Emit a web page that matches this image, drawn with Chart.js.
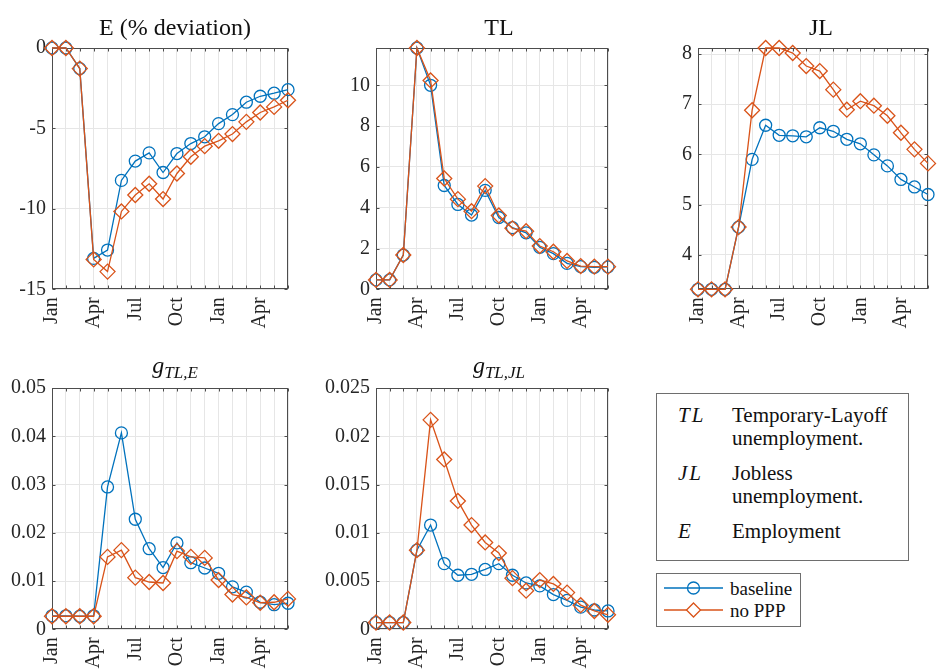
<!DOCTYPE html>
<html>
<head>
<meta charset="utf-8">
<script src="https://cdn.jsdelivr.net/npm/chart.js@4.4.0/dist/chart.umd.min.js"></script>
<style>
html, body { margin: 0; padding: 0; width: 938px; height: 669px; overflow: hidden; background: #fff; }
body { position: relative; font-family: "Liberation Serif", "DejaVu Serif", "Times New Roman", Times, serif; color: #111; }
canvas { position: absolute; }
.ttl { position: absolute; text-align: center; font-size: 24px; line-height: 28px; white-space: nowrap; }
.ttl sub { font-size: 17px; vertical-align: -5px; line-height: 0; }
.box { position: absolute; border: 1px solid #6e6e6e; background: #fff; box-sizing: border-box; }
.row { position: absolute; font-size: 21px; line-height: 24px; white-space: nowrap; }
.row i { letter-spacing: 2px; }
.leg { position: absolute; font-size: 19px; line-height: 22px; white-space: nowrap; }
svg { position: absolute; }
</style>
</head>
<body>

<canvas id="cE" width="320" height="340" style="left:0px;top:0px"></canvas>
<canvas id="cTL" width="320" height="340" style="left:320px;top:0px"></canvas>
<canvas id="cJL" width="320" height="340" style="left:640px;top:0px"></canvas>
<canvas id="cgE" width="320" height="329" style="left:0px;top:340px"></canvas>
<canvas id="cgJL" width="320" height="329" style="left:320px;top:340px"></canvas>

<div class="ttl" style="left:52px;width:246px;top:13px">E (% deviation)</div>
<div class="ttl" style="left:376px;width:246px;top:13px">TL</div>
<div class="ttl" style="left:698px;width:246px;top:13px">JL</div>
<div class="ttl" style="left:52px;width:246px;top:351px"><i>g</i><sub><i>TL,E</i></sub></div>
<div class="ttl" style="left:376px;width:246px;top:351px"><i>g</i><sub><i>TL,JL</i></sub></div>

<!-- notation box -->
<div class="box" style="left:656px;top:393px;width:253px;height:168px"></div>
<div class="row" style="left:678px;top:403px"><i>TL</i></div>
<div class="row" style="left:732px;top:403px">Temporary-Layoff</div>
<div class="row" style="left:732px;top:426px">unemployment.</div>
<div class="row" style="left:678px;top:461px"><i>JL</i></div>
<div class="row" style="left:732px;top:461px">Jobless</div>
<div class="row" style="left:732px;top:484px">unemployment.</div>
<div class="row" style="left:678px;top:519px"><i>E</i></div>
<div class="row" style="left:732px;top:519px">Employment</div>

<!-- series legend -->
<div class="box" style="left:656px;top:573px;width:145px;height:54px"></div>
<svg width="70" height="50" style="left:660px;top:575px">
  <line x1="4" y1="13" x2="63" y2="13" stroke="#0072BD" stroke-width="1.3"/>
  <circle cx="33.5" cy="13" r="6" fill="none" stroke="#0072BD" stroke-width="1.3"/>
  <line x1="4" y1="35" x2="63" y2="35" stroke="#D95319" stroke-width="1.3"/>
  <polygon points="33.5,28 40.5,35 33.5,42 26.5,35" fill="#fff" stroke="#D95319" stroke-width="1.3"/>
</svg>
<div class="leg" style="left:730px;top:578px">baseline</div>
<div class="leg" style="left:730px;top:600px">no PPP</div>

<script>
// month axis, Jan through June of the following year
const months = ['Jan', 'Feb', 'Mar', 'Apr', 'May', 'Jun', 'Jul', 'Aug', 'Sep', 'Oct', 'Nov', 'Dec',
                'Jan', 'Feb', 'Mar', 'Apr', 'May', 'Jun'];

// employment, % deviation
const E_base  = [0, 0, -1.28, -13.08, -12.56, -8.23, -7.03, -6.52, -7.74, -6.56, -5.94, -5.52, -4.70, -4.14, -3.37, -3.00, -2.81, -2.59];
const E_noPPP = [0, 0, -1.28, -13.14, -13.90, -10.16, -9.14, -8.44, -9.39, -7.80, -6.76, -6.10, -5.77, -5.35, -4.59, -4.01, -3.66, -3.25];

// temporary-layoff unemployment
const TL_base  = [0.46, 0.46, 1.68, 11.83, 10.00, 5.09, 4.16, 3.64, 4.85, 3.52, 3.02, 2.77, 2.06, 1.75, 1.27, 1.11, 1.08, 1.10];
const TL_noPPP = [0.46, 0.46, 1.68, 11.83, 10.24, 5.43, 4.42, 3.83, 5.06, 3.62, 2.99, 2.85, 2.12, 1.84, 1.39, 1.14, 1.11, 1.11];

// jobless unemployment
const JL_base  = [3.31, 3.31, 3.31, 4.55, 5.90, 6.58, 6.38, 6.37, 6.35, 6.53, 6.46, 6.30, 6.21, 5.99, 5.77, 5.50, 5.35, 5.20];
const JL_noPPP = [3.31, 3.31, 3.31, 4.55, 6.88, 8.12, 8.12, 8.02, 7.76, 7.66, 7.29, 6.89, 7.06, 6.97, 6.77, 6.43, 6.10, 5.82];

// flow rate TL -> E
const gE_base  = [0.0028, 0.0028, 0.0027, 0.0028, 0.0295, 0.0407, 0.0228, 0.0167, 0.0128, 0.0179, 0.0138, 0.0127, 0.0116, 0.0088, 0.0077, 0.0056, 0.0051, 0.0054];
const gE_noPPP = [0.0027, 0.0027, 0.0027, 0.0027, 0.0150, 0.0164, 0.0107, 0.0098, 0.0096, 0.0162, 0.0150, 0.0148, 0.0102, 0.0072, 0.0066, 0.0055, 0.0056, 0.0063];

// flow rate TL -> JL
const gJL_base  = [0.0007, 0.0007, 0.0007, 0.0082, 0.0108, 0.0068, 0.0056, 0.0057, 0.0062, 0.0068, 0.0056, 0.0048, 0.0045, 0.0036, 0.0030, 0.0023, 0.0020, 0.0019];
const gJL_noPPP = [0.0007, 0.0007, 0.0007, 0.0082, 0.0217, 0.0176, 0.0133, 0.0108, 0.0090, 0.0079, 0.0053, 0.0040, 0.0051, 0.0047, 0.0038, 0.0025, 0.0019, 0.0015];

const BLUE = '#0072BD';
const ORANGE = '#D95319';

Chart.defaults.font.family = '"Liberation Serif", "DejaVu Serif", "Times New Roman", Times, serif';
Chart.defaults.font.size = 20;
Chart.defaults.color = '#262626';

// axes box plus small inward tick marks, drawn under the lines
const framePlugin = {
    id: 'frame',
    beforeDatasetsDraw(chart) {
        const { ctx, chartArea: a, scales: { x, y } } = chart;
        const L = Math.round(a.left) + 0.5, R = Math.round(a.right) - 0.5;
        const T = Math.round(a.top) + 0.5, B = Math.round(a.bottom) - 0.5;
        ctx.save();
        ctx.strokeStyle = '#4d4d4d';
        ctx.lineWidth = 1;
        ctx.beginPath();
        for (let i = 0; i < x.ticks.length; i++) {
            const px = Math.round(x.getPixelForTick(i)) + 0.5;
            ctx.moveTo(px, B); ctx.lineTo(px, B - 3);
            ctx.moveTo(px, T); ctx.lineTo(px, T + 3);
        }
        for (let i = 0; i < y.ticks.length; i++) {
            const py = Math.round(y.getPixelForTick(i)) + 0.5;
            ctx.moveTo(L, py); ctx.lineTo(L + 3, py);
            ctx.moveTo(R, py); ctx.lineTo(R - 3, py);
        }
        ctx.stroke();
        ctx.strokeRect(L, T, R - L, B - T);
        ctx.restore();
    }
};

function series(data, color, style, radius, order) {
    return {
        data: data,
        borderColor: color,
        borderWidth: 1.3,
        pointStyle: style,
        pointRadius: radius,
        pointBorderWidth: 1.3,
        pointBorderColor: color,
        pointBackgroundColor: 'rgba(255,255,255,0)',
        tension: 0,
        clip: false,
        order: order
    };
}

function fmt(v) {
    return String(parseFloat(v.toFixed(4)));
}

function makeChart(id, base, noPPP, yMin, yMax, step, plotLeft, plotRight, plotBottom) {
    const canvas = document.getElementById(id);
    const W = canvas.width, H = canvas.height;
    return new Chart(canvas, {
        type: 'line',
        data: {
            labels: months,
            datasets: [
                series(base, BLUE, 'circle', 6, 1),
                series(noPPP, ORANGE, 'rectRot', 7.5, 0)
            ]
        },
        options: {
            responsive: false,
            animation: false,
            devicePixelRatio: 1,
            layout: { padding: { left: 0, right: W - plotRight, top: 48, bottom: 0 } },
            plugins: { legend: { display: false }, tooltip: { enabled: false } },
            scales: {
                x: {
                    type: 'category',
                    offset: false,
                    border: { display: false },
                    grid: { color: '#e6e6e6', lineWidth: 1, drawTicks: false },
                    ticks: {
                        autoSkip: false,
                        minRotation: 90,
                        maxRotation: 90,
                        padding: 8,
                        callback: (v, i) => (i % 3 === 0 ? months[i] : '')
                    },
                    afterFit: s => { s.height = H - plotBottom; }
                },
                y: {
                    min: yMin,
                    max: yMax,
                    border: { display: false },
                    grid: { color: '#e6e6e6', lineWidth: 1, drawTicks: false },
                    ticks: { stepSize: step, includeBounds: false, padding: 6, callback: v => fmt(v) },
                    afterFit: s => { s.width = plotLeft; }
                }
            }
        },
        plugins: [framePlugin]
    });
}

function drawAll() {
    makeChart('cE', E_base, E_noPPP, -15, 0, 5, 52, 298, 289.3);
    makeChart('cTL', TL_base, TL_noPPP, 0, 11.83, 2, 56, 302.3, 289.3);
    makeChart('cJL', JL_base, JL_noPPP, 3.31, 8.12, 1, 58, 304, 289.3);
    makeChart('cgE', gE_base, gE_noPPP, 0, 0.05, 0.01, 52, 298, 289.3);
    makeChart('cgJL', gJL_base, gJL_noPPP, 0, 0.025, 0.005, 56, 302.3, 289.3);
}

// make sure the serif face is ready before the canvases measure text
if (document.fonts && document.fonts.load) {
    document.fonts.load('20px "Liberation Serif"').then(drawAll, drawAll);
} else {
    drawAll();
}
</script>
</body>
</html>
